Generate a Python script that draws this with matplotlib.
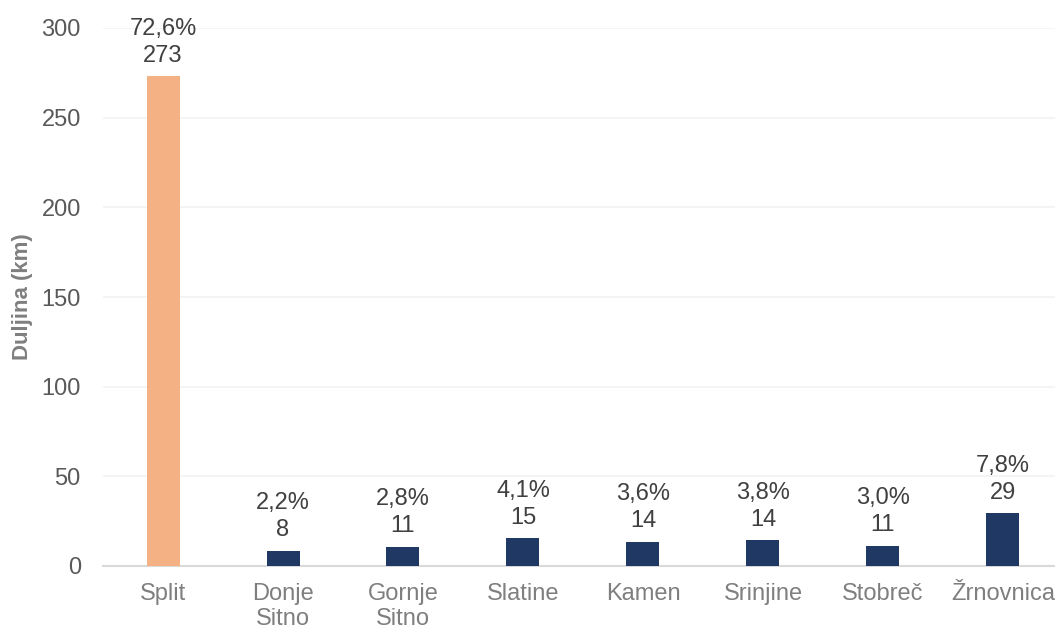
import matplotlib.pyplot as plt

plt.rcParams['font.family'] = ['Liberation Sans', 'DejaVu Sans']

places = ['Split', 'Donje\nSitno', 'Gornje\nSitno', 'Slatine', 'Kamen',
          'Srinjine', 'Stobreč', 'Žrnovnica']
length_km = [273.0, 8.3, 10.6, 15.4, 13.6, 14.3, 11.3, 29.3]
share_pct = [72.6, 2.2, 2.8, 4.1, 3.6, 3.8, 3.0, 7.8]
bar_colors = ['#F4B183'] + ['#203864'] * 7
yticks = [0, 50, 100, 150, 200, 250, 300]


def main():
    fig = plt.figure(figsize=(10.55, 6.29), dpi=100)
    ax = fig.add_axes([103 / 1055, 63 / 629, 960 / 1055, 538 / 629])

    x = list(range(len(places)))
    bars = ax.bar(x, length_km, width=0.275, color=bar_colors, zorder=3)

    for b, v, p in zip(bars, length_km, share_pct):
        txt = f"{p:.1f}".replace('.', ',') + '%\n' + f"{v:.0f}"
        ax.annotate(txt, (b.get_x() + b.get_width() / 2, b.get_height()),
                    xytext=(0, 7), textcoords='offset points',
                    ha='center', va='bottom', fontsize=17, color='#404040',
                    linespacing=1.3)

    ax.set_xlim(-0.5, len(places) - 0.5)
    ax.set_ylim(0, 300)
    ax.set_yticks(yticks)
    ax.set_xticks(x)
    ax.set_xticklabels(places, fontsize=17, color='#7F7F7F', linespacing=1.2)
    ax.tick_params(axis='y', labelsize=17, labelcolor='#595959', length=0, pad=16)
    ax.tick_params(axis='x', length=0, pad=12)
    ax.set_ylabel('Duljina (km)', fontsize=16, fontweight='bold', color='#7F7F7F',
                  labelpad=6)

    ax.grid(axis='y', color='#F2F2F2', linewidth=1.2, zorder=0)
    for s in ['top', 'right', 'left']:
        ax.spines[s].set_visible(False)
    ax.spines['bottom'].set_color('#D9D9D9')
    ax.spines['bottom'].set_linewidth(1.5)

    fig.savefig('out.png', dpi=100)


if __name__ == '__main__':
    main()
